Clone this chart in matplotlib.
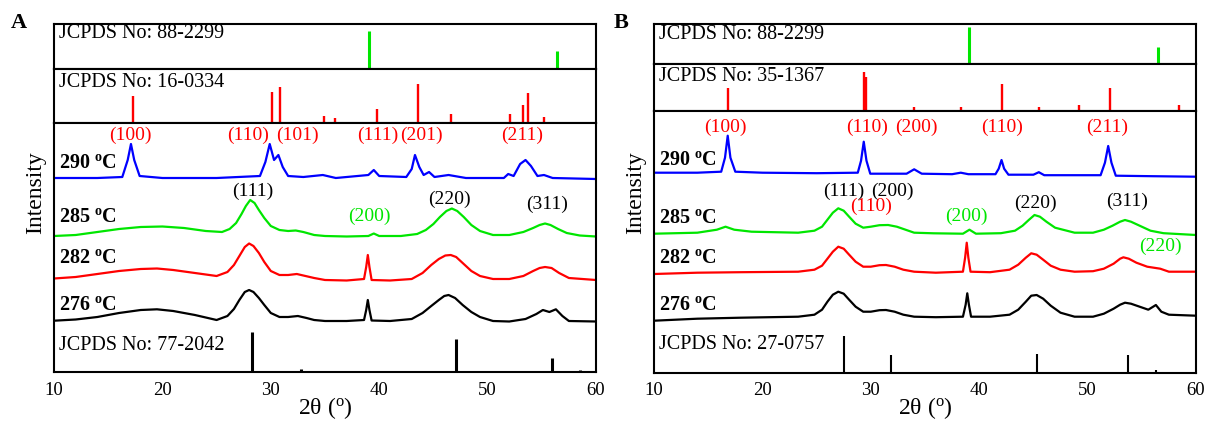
import matplotlib
matplotlib.use('Agg')
import matplotlib.pyplot as plt

plt.rcParams['font.family'] = 'Liberation Serif'
plt.rcParams['mathtext.fontset'] = 'custom'
plt.rcParams['mathtext.rm'] = 'Liberation Serif'
plt.rcParams['mathtext.bf'] = 'Liberation Serif:bold'
plt.rcParams['mathtext.it'] = 'Liberation Serif:italic'

BLUE = '#0000ff'
GREEN = '#00e600'
RED = '#ff0000'
BLACK = '#000000'

W, H = 1208, 421

# ---------------- Panel A data ----------------
a_green_pos = [33.7, 39.1, 56.37]
a_green_int = [1, 38, 18.3]
a_red_pos = [17.26, 30.12, 30.85, 34.9, 35.95, 39.8, 43.55, 46.65, 52.04, 53.27, 53.76, 55.2]
a_red_int = [26.7, 31, 35.4, 7, 4.4, 14, 38.7, 8.3, 8.3, 17.7, 29.3, 5.7]
a_black_pos = [28.28, 32.8, 47.1, 55.9, 58.55]
a_black_int = [39.7, 3, 32.7, 13.7, 2]

a_290_x = [10, 14, 16.3, 16.8, 17.1, 17.4, 17.9, 20, 25, 29.0, 29.5, 29.9, 30.3, 30.7, 31.1, 31.6,
           33, 34.8, 36, 39.0, 39.5, 40.0, 42.5, 43.0, 43.3, 43.7, 44.1, 44.6, 45.1, 46.4, 48,
           51.5, 51.9, 52.4, 53.0, 53.5, 54.0, 54.6, 55.2, 56, 60]
a_290_y = [194, 194, 195, 212, 228, 212, 196, 194, 194, 196, 210, 228, 212, 217, 205, 196,
           195, 197, 194, 197, 202, 196, 195, 203, 217, 205, 197, 200, 195, 197, 194,
           194, 198, 196, 208, 212, 206, 196, 197, 194, 193]

a_285_x = [10, 12, 14, 16, 18, 20, 22, 24, 25.5, 26.2, 26.8, 27.3, 27.7, 28.1, 28.5, 28.9, 29.4,
           30.0, 30.8, 31.6, 32.3, 33.0, 34, 35, 37, 39.0, 39.5, 40.0, 42, 43.5, 44.3, 45.0,
           45.6, 46.2, 46.7, 47.2, 47.8, 48.5, 49.3, 50.5, 52, 53.3, 54.2, 54.8, 55.3, 55.8,
           56.5, 57.3, 58.5, 60]
a_285_y = [136, 137, 140, 143, 145, 145.5, 144, 141, 140, 143, 149, 158, 166, 172, 169, 162, 154,
           146, 142, 141, 141.5, 140, 137, 136, 135.5, 136, 138.5, 136, 136, 138, 142, 148,
           155, 161, 163.5, 161, 155, 147, 141, 137, 137, 140, 144, 147, 148.5, 147,
           143, 139, 136.5, 135.5]

a_282_x = [10, 12, 14, 16, 18, 19.5, 21, 23, 25, 26.0, 26.6, 27.1, 27.6, 28.0, 28.4, 28.9, 29.4,
           30.0, 30.8, 31.6, 32.4, 33.2, 34, 35, 37, 38.6, 38.8, 38.95, 39.1, 39.3, 41, 43,
           44.0, 44.8, 45.5, 46.1, 46.6, 47.1, 47.8, 48.5, 49.3, 50.5, 52, 53.3, 54.2, 54.8,
           55.3, 55.9, 56.6, 57.5, 60]
a_282_y = [93.5, 95, 98, 101, 103, 103.5, 102, 99, 96, 100, 107, 116, 125, 128.5, 126, 119, 110,
           101, 97, 97, 98, 96, 94, 92, 91.5, 93, 105, 117, 105, 92, 91.5, 93,
           99, 107, 113, 116.5, 117, 115, 108, 101, 96, 93, 93, 96, 101, 104,
           105, 104, 99, 94, 92]

a_276_x = [10, 12, 14, 16, 18, 19.5, 21, 23, 25, 26.0, 26.6, 27.1, 27.6, 28.0, 28.4, 28.9, 29.4,
           30.0, 30.8, 31.6, 32.5, 33.3, 34, 35, 37, 38.6, 38.8, 38.95, 39.1, 39.3, 41, 43,
           44.0, 44.8, 45.5, 46.0, 46.4, 47.0, 47.7, 48.5, 49.3, 50.5, 52, 53.5, 54.5, 55.1,
           55.7, 56.3, 56.9, 57.5, 60]
a_276_y = [51.3, 52.5, 55, 59, 62, 62.7, 61, 57, 52, 56, 63, 72, 80, 82, 80, 74, 67,
           59, 55, 55, 56, 54, 52, 51, 51, 52, 62, 72, 62, 51.5, 51, 53,
           59, 66, 72, 76, 77, 74, 67, 60, 55, 51, 50.5, 53, 58, 62,
           60, 62.7, 56, 51, 50.5]

# ---------------- Panel B data ----------------
b_green_pos = [33.7, 39.1, 56.5]
b_green_int = [1, 37.3, 17.3]
b_red_pos = [16.8, 29.35, 29.55, 34.0, 38.3, 42.06, 45.5, 49.2, 52.1, 58.4]
b_red_int = [22.4, 38.4, 34, 3.3, 3.3, 26.7, 3.3, 5.7, 22.4, 5.7]
b_black_pos = [27.5, 31.86, 45.3, 53.75, 56.35]
b_black_int = [36.7, 17.7, 18.4, 17.7, 3]

b_290_x = [10, 14, 16.2, 16.55, 16.8, 17.05, 17.5, 20, 25, 28.8, 29.1, 29.35, 29.6, 29.95,
           33.3, 34.0, 34.7, 37.5, 38.3, 39.0, 41.5, 41.8, 42.06, 42.3, 42.7, 45.0, 45.5, 46.0,
           51.2, 51.6, 51.9, 52.2, 52.6, 56, 60]
b_290_y = [200, 200, 201, 215, 237, 215, 201, 200, 199.5, 200, 212, 231, 212, 199,
           199, 203.4, 199, 198.5, 200, 198.5, 198.5, 204, 212.7, 204, 198, 198, 200.5, 197.5,
           197.5, 210, 226.7, 210, 197, 196.5, 196]

b_285_x = [10, 14, 15.8, 16.6, 17.4, 19, 23.3, 24.8, 25.5, 26.0, 26.5, 27.0, 27.5, 28.0, 28.6,
           29.3, 30.0, 30.8, 31.6, 32.4, 33.2, 34, 35.8, 38.5, 38.8, 39.1, 39.4, 39.7, 42, 43.3,
           44.0, 44.6, 45.1, 45.6, 46.2, 47, 48.8, 50.5, 51.5, 52.3, 53.0, 53.45, 54.0, 54.8,
           55.8, 57, 60]
b_285_y = [139, 140, 143, 146, 143, 141, 140, 142, 146, 153, 160, 164.4, 162, 156, 149,
           145, 146, 147.5, 147.7, 146, 143, 140, 139.4, 139, 141, 143, 141, 139, 139.5, 142,
           147, 153, 157.7, 156, 151, 145, 140, 140, 143, 147, 151, 152.7, 151, 147,
           142, 139.5, 137.7]

b_282_x = [10, 14, 18, 23.3, 24.8, 25.5, 26.0, 26.5, 27.0, 27.5, 28.0, 28.6, 29.3, 30.0, 30.8,
           31.4, 32.2, 33.0, 34, 36, 38.5, 38.7, 38.85, 39.0, 39.2, 41, 42.8, 43.6, 44.3, 44.8,
           45.3, 45.9, 46.6, 47.5, 48.8, 50.5, 51.5, 52.4, 53.0, 53.3, 53.8, 54.5, 55.5, 56.7,
           57.5, 60]
b_282_y = [98.7, 100, 100.5, 101, 103, 107, 114, 121, 126, 124, 118, 111, 106, 106, 107.5,
           107.7, 106, 103, 101, 100, 101, 115, 130, 115, 101, 100.5, 103, 108, 115, 119.4,
           118, 113, 107, 103, 101, 101.5, 104, 109, 114, 115.4, 114, 110, 106, 104,
           101, 101]

b_276_x = [10, 14, 18, 23.3, 24.8, 25.5, 26.0, 26.5, 27.0, 27.5, 28.0, 28.6, 29.3, 30.0, 30.8,
           31.4, 32.2, 33.0, 34, 36, 38.5, 38.75, 38.9, 39.05, 39.25, 41, 42.8, 43.6, 44.3, 44.8,
           45.3, 45.9, 46.6, 47.5, 48.8, 50.5, 51.5, 52.4, 53.0, 53.45, 54.0, 54.8, 55.6, 56.3,
           56.8, 57.5, 60]
b_276_y = [52, 54, 55, 56, 58, 63, 71, 78, 81, 79, 73, 66, 61, 61, 62.5,
           62.7, 61, 58, 56, 55.5, 56, 68, 79.4, 68, 56, 56, 58, 63, 71, 77,
           77.7, 74, 67, 60, 56, 56, 59, 64, 68, 70, 69, 66, 63, 67.7,
           61, 58, 57]

temps = ['290', '285', '282', '276']

LW = 1.6


def px_axes(fig, x0, y0, x1, y1):
    ax = fig.add_axes([x0 / W, 1 - y1 / H, (x1 - x0) / W, (y1 - y0) / H])
    ax.set_xlim(10, 60)
    ax.set_ylim(0, y1 - y0)
    for s in ax.spines.values():
        s.set_linewidth(1.5)
    ax.set_yticks([])
    return ax


def stick_box(ax, pos, inten, color, lw, label, label_h):
    ax.vlines(pos, 0, inten, colors=color, linewidth=lw)
    ax.set_xticks([])
    ax.text(10.45, label_h, label, fontsize=14.5, va='center', ha='left')


def temp_label(ax, t, h):
    ax.text(10.5, h, t + r' $^{\mathbf{o}}$C', fontsize=14.5, fontweight='bold',
            va='center', ha='left')


fig = plt.figure(figsize=(W / 100, H / 100), dpi=100)

# ---------------- Panel A ----------------
ax = px_axes(fig, 54, 24, 596, 69)
stick_box(ax, a_green_pos, a_green_int, GREEN, 2.2, 'JCPDS No: 88-2299', 35)
ax = px_axes(fig, 54, 69, 596, 122.7)
stick_box(ax, a_red_pos, a_red_int, RED, 1.7, 'JCPDS No: 16-0334', 40)

ax = px_axes(fig, 54, 122.7, 596, 372)
ax.plot(a_290_x, a_290_y, color=BLUE, lw=LW)
ax.plot(a_285_x, a_285_y, color=GREEN, lw=LW)
ax.plot(a_282_x, a_282_y, color=RED, lw=LW)
ax.plot(a_276_x, a_276_y, color=BLACK, lw=LW)
ax.vlines(a_black_pos, 0, a_black_int, colors=BLACK, linewidth=2.2)
ax.text(10.45, 27, 'JCPDS No: 77-2042', fontsize=14.5, va='center', ha='left')
for t, h in zip(temps, [208.7, 154.7, 113.7, 67]):
    temp_label(ax, t, h)
for lab, x in zip(['(100)', '(110)', '(101)', '(111)', '(201)', '(211)'],
                  [17.0, 27.9, 32.5, 39.9, 43.9, 53.2]):
    ax.text(x, 237, lab, color=RED, fontsize=14, ha='center', va='center')
for lab, x, h in zip(['(111)', '(220)', '(311)'], [28.3, 46.5, 55.5], [180.3, 172.7, 167.7]):
    ax.text(x, h, lab, color=BLACK, fontsize=14, ha='center', va='center')
ax.text(39.1, 155.3, '(200)', color=GREEN, fontsize=14, ha='center', va='center')
ax.set_xticks([10, 20, 30, 40, 50, 60])
ax.tick_params(axis='x', length=0, pad=7, labelsize=13.5)

fig.text(19 / W, 1 - 23.5 / H, 'A', fontsize=16, fontweight='bold', ha='center', va='center')
fig.text(35.5 / W, 1 - 193 / H, 'Intensity', fontsize=17, rotation=90, ha='center', va='center')
fig.text(325 / W, 1 - 408 / H, r'2θ ($^{\rm o}$)', fontsize=17, ha='center', va='center')

# ---------------- Panel B ----------------
ax = px_axes(fig, 654, 24, 1196, 64)
stick_box(ax, b_green_pos, b_green_int, GREEN, 2.2, 'JCPDS No: 88-2299', 30)
ax = px_axes(fig, 654, 64, 1196, 110.7)
stick_box(ax, b_red_pos, b_red_int, RED, 1.7, 'JCPDS No: 35-1367', 34.4)

ax = px_axes(fig, 654, 110.7, 1196, 372.7)
ax.plot(b_290_x, b_290_y, color=BLUE, lw=LW)
ax.plot(b_285_x, b_285_y, color=GREEN, lw=LW)
ax.plot(b_282_x, b_282_y, color=RED, lw=LW)
ax.plot(b_276_x, b_276_y, color=BLACK, lw=LW)
ax.vlines(b_black_pos, 0, b_black_int, colors=BLACK, linewidth=1.5)
ax.text(10.45, 28.4, 'JCPDS No: 27-0757', fontsize=14.5, va='center', ha='left')
for t, h in zip(temps, [212.7, 154.4, 114.4, 67.7]):
    temp_label(ax, t, h)
for lab, x in zip(['(100)', '(110)', '(200)', '(110)', '(211)'],
                  [16.6, 29.7, 34.2, 42.1, 51.8]):
    ax.text(x, 245.7, lab, color=RED, fontsize=14, ha='center', va='center')
for lab, x, h in zip(['(111)', '(200)', '(220)', '(311)'], [27.5, 32.0, 45.2, 53.6],
                     [181, 181, 169.4, 171]):
    ax.text(x, h, lab, color=BLACK, fontsize=14, ha='center', va='center')
ax.text(30.0, 166, '(110)', color=RED, fontsize=14, ha='center', va='center')
ax.text(38.8, 156, '(200)', color=GREEN, fontsize=14, ha='center', va='center')
ax.text(56.7, 126.7, '(220)', color=GREEN, fontsize=14, ha='center', va='center')
ax.set_xticks([10, 20, 30, 40, 50, 60])
ax.tick_params(axis='x', length=0, pad=7, labelsize=13.5)

fig.text(621 / W, 1 - 22.5 / H, 'B', fontsize=16, fontweight='bold', ha='center', va='center')
fig.text(636 / W, 1 - 193 / H, 'Intensity', fontsize=17, rotation=90, ha='center', va='center')
fig.text(925 / W, 1 - 408 / H, r'2θ ($^{\rm o}$)', fontsize=17, ha='center', va='center')

fig.savefig('out.png', dpi=100)
